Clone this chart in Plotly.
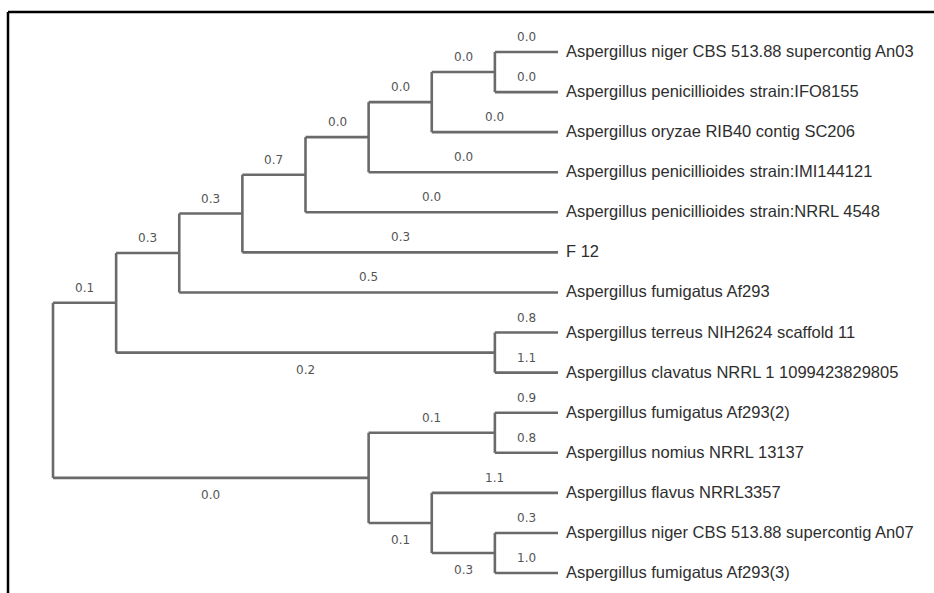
import plotly.graph_objects as go

# ---------------- data ----------------
leaf_names = [
    "Aspergillus niger CBS 513.88 supercontig An03",
    "Aspergillus penicillioides strain:IFO8155",
    "Aspergillus oryzae RIB40 contig SC206",
    "Aspergillus penicillioides strain:IMI144121",
    "Aspergillus penicillioides strain:NRRL 4548",
    "F 12",
    "Aspergillus fumigatus Af293",
    "Aspergillus terreus NIH2624 scaffold 11",
    "Aspergillus clavatus NRRL 1 1099423829805",
    "Aspergillus fumigatus Af293(2)",
    "Aspergillus nomius NRRL 13137",
    "Aspergillus flavus NRRL3357",
    "Aspergillus niger CBS 513.88 supercontig An07",
    "Aspergillus fumigatus Af293(3)",
]

# tree edges: parent node, child (internal node name or leaf index), branch value
edge_parent = ["A", "A", "B", "B", "C", "C", "D", "D", "E", "E", "F", "F",
               "H", "H", "G", "G", "J", "J", "L", "L", "K", "K", "I", "I", "R", "R"]
edge_child = [0, 1, "A", 2, "B", 3, "C", 4, "D", 5, "E", 6,
              7, 8, "F", "H", 9, 10, 12, 13, 11, "L", "J", "K", "G", "I"]
edge_value = [0.0, 0.0, 0.0, 0.0, 0.0, 0.0, 0.0, 0.0, 0.7, 0.3, 0.3, 0.5,
              0.8, 1.1, 0.3, 0.2, 0.9, 0.8, 0.3, 1.0, 1.1, 0.3, 0.1, 0.1, 0.1, 0.0]

# ---------------- layout of the cladogram ----------------
children = {}
for p, c in zip(edge_parent, edge_child):
    children.setdefault(p, []).append(c)

height = {}
ypos = {}


def calc(n):
    if isinstance(n, int):
        height[n] = 0
        ypos[n] = n
        return
    for c in children[n]:
        calc(c)
    height[n] = 1 + max(height[c] for c in children[n])
    ypos[n] = sum(ypos[c] for c in children[n]) / len(children[n])


calc("R")
max_h = height["R"]
xpos = {n: max_h - h for n, h in height.items()}

# axis mapping: x unit -> 63.125 px, root at 53 px; y unit -> 40.08 px, first leaf at 52 px
W, H = 934, 593
x_px0, x_step = 53.0, 63.125
y_px0, y_step = 52.0, 40.08
x_range = [-x_px0 / x_step, (W - x_px0) / x_step]
y_range = [(H - y_px0) / y_step, -y_px0 / y_step]

line_x, line_y = [], []
for p, c in zip(edge_parent, edge_child):
    line_x += [xpos[p], xpos[c], None]
    line_y += [ypos[c], ypos[c], None]
for n, ch in children.items():
    line_x += [xpos[n], xpos[n], None]
    line_y += [ypos[ch[0]], ypos[ch[-1]], None]

fig = go.Figure()
fig.add_trace(go.Scatter(x=line_x, y=line_y, mode="lines",
                         line=dict(color="#6a6a6a", width=2.6),
                         hoverinfo="skip", showlegend=False))

annotations = []
for i, name in enumerate(leaf_names):
    annotations.append(dict(x=xpos[i], y=ypos[i], text=name, showarrow=False,
                            xanchor="left", yanchor="middle", xshift=6, yshift=1,
                            font=dict(family="Liberation Sans, Arial",
                                      size=16.5, color="#2e2e2e")))

for p, c, v in zip(edge_parent, edge_child, edge_value):
    mid = (xpos[p] + xpos[c]) / 2
    below = (not isinstance(c, int)) and children[p][-1] == c
    annotations.append(dict(x=mid, y=ypos[c], text=f"{v:.1f}", showarrow=False,
                            xanchor="center", yanchor="middle",
                            yshift=-17 if below else 15,
                            font=dict(family="DejaVu Sans", size=12, color="#555555")))

fig.update_layout(
    width=W, height=H,
    margin=dict(l=0, r=0, t=0, b=0),
    paper_bgcolor="white", plot_bgcolor="white",
    xaxis=dict(range=x_range, visible=False, fixedrange=True),
    yaxis=dict(range=y_range, visible=False, fixedrange=True),
    annotations=annotations,
    shapes=[
        dict(type="line", xref="paper", yref="paper", x0=8 / W, x1=1, y0=1 - 12 / H, y1=1 - 12 / H,
             line=dict(color="black", width=2.5)),
        dict(type="line", xref="paper", yref="paper", x0=8 / W, x1=8 / W, y0=1 - 12 / H, y1=0,
             line=dict(color="black", width=2.5)),
    ],
)

fig.write_html("out.html")
